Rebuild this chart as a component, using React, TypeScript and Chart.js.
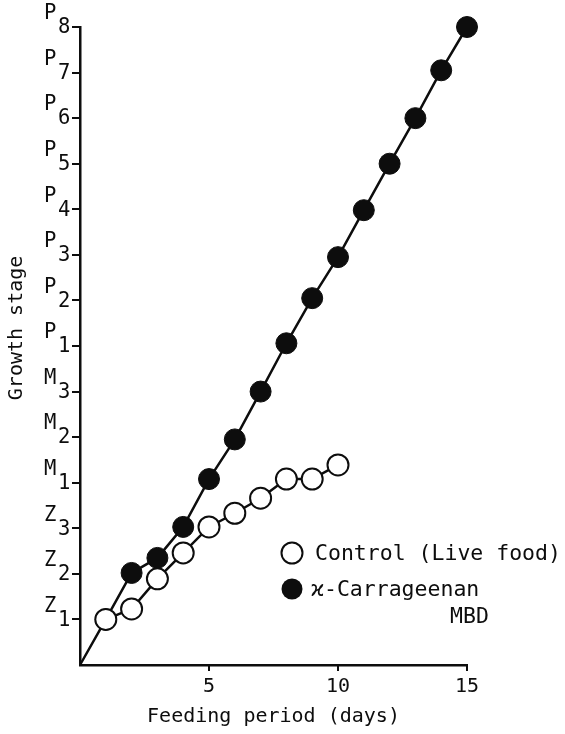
import React, { useEffect, useRef } from 'react';
import { Chart, registerables } from 'chart.js';

Chart.register(...registerables);

// ---- data ----
const STAGES = ['Z1', 'Z2', 'Z3', 'M1', 'M2', 'M3', 'P1', 'P2', 'P3', 'P4', 'P5', 'P6', 'P7', 'P8'];
const X_TICKS = [5, 10, 15];

const CONTROL_LABEL = 'Control (Live food)';
const CONTROL_DAYS = [1, 2, 3, 4, 5, 6, 7, 8, 9, 10];
const CONTROL_STAGE = [1.0, 1.23, 1.89, 2.46, 3.03, 3.33, 3.66, 4.08, 4.08, 4.39];

const CARRA_LABEL = ['ϰ-Carrageenan', 'MBD'];
const CARRA_DAYS = [0, 1, 2, 3, 4, 5, 6, 7, 8, 9, 10, 11, 12, 13, 14, 15];
const CARRA_STAGE = [0, 1.0, 2.02, 2.35, 3.03, 4.08, 4.95, 6.0, 7.06, 8.05, 8.95, 9.98, 11.0, 12.0, 13.05, 14.0];

const X_TITLE = 'Feeding period (days)';
const Y_TITLE = 'Growth stage';

// ---- style ----
const FONT = '"DejaVu Sans Mono", monospace';
const INK = '#0d0d0d';
const W = 565;
const H = 734;

const axisDecorPlugin = {
  id: 'axisDecor',
  afterDraw(chart: any) {
    const ys = chart.scales.y;
    const xs = chart.scales.x;
    const ctx = chart.ctx;
    const { left, bottom } = chart.chartArea;
    ctx.save();
    ctx.fillStyle = INK;
    // tick marks
    STAGES.forEach((_, i) => {
      const y = Math.round(ys.getPixelForValue(i + 1));
      ctx.fillRect(left - 8, y - 1, 8, 2);
    });
    X_TICKS.forEach((v) => {
      const x = Math.round(xs.getPixelForValue(v));
      ctx.fillRect(x - 1, bottom, 2, 6);
    });
    // stage labels with subscript numbers
    ctx.font = `20.5px ${FONT}`;
    ctx.textBaseline = 'middle';
    ctx.textAlign = 'left';
    STAGES.forEach((s, i) => {
      const y = ys.getPixelForValue(i + 1);
      ctx.fillText(s[0], left - 36, y - 13);
      ctx.fillText(s.slice(1), left - 22, y + 1);
    });
    ctx.restore();
  },
};

const legendPlugin = {
  id: 'customLegend',
  afterDraw(chart: any) {
    const ctx = chart.ctx;
    ctx.save();
    ctx.lineWidth = 2;
    ctx.strokeStyle = INK;
    ctx.beginPath();
    ctx.arc(292, 553, 10.5, 0, Math.PI * 2);
    ctx.fillStyle = '#fff';
    ctx.fill();
    ctx.stroke();
    ctx.beginPath();
    ctx.arc(292, 589, 10.5, 0, Math.PI * 2);
    ctx.fillStyle = INK;
    ctx.fill();
    ctx.fillStyle = INK;
    ctx.font = `21.5px ${FONT}`;
    ctx.textBaseline = 'middle';
    ctx.textAlign = 'left';
    ctx.fillText(CONTROL_LABEL, 315, 554);
    ctx.fillText(CARRA_LABEL[0], 311, 590);
    ctx.fillText(CARRA_LABEL[1], 450, 617);
    ctx.restore();
  },
};

export default function App() {
  const ref = useRef<HTMLCanvasElement | null>(null);

  useEffect(() => {
    if (!ref.current) return;
    const chart = new Chart(ref.current, {
      type: 'scatter',
      data: {
        datasets: [
          {
            label: CONTROL_LABEL,
            data: CONTROL_DAYS.map((d, i) => ({ x: d, y: CONTROL_STAGE[i] })),
            showLine: true,
            borderColor: INK,
            borderWidth: 2.5,
            pointRadius: 10.5,
            pointBorderWidth: 2,
            pointBackgroundColor: '#fff',
            pointBorderColor: INK,
            clip: false,
          } as any,
          {
            label: CARRA_LABEL.join(' '),
            data: CARRA_DAYS.map((d, i) => ({ x: d, y: CARRA_STAGE[i] })),
            showLine: true,
            borderColor: INK,
            borderWidth: 2.5,
            pointRadius: CARRA_DAYS.map((d) => (d === 0 ? 0 : 10.5)),
            pointBorderWidth: 1,
            pointBackgroundColor: INK,
            pointBorderColor: INK,
            clip: false,
          } as any,
        ],
      },
      options: {
        animation: false,
        responsive: false,
        devicePixelRatio: 1,
        events: [],
        layout: { padding: { top: 27, right: 98, left: 0, bottom: 0 } },
        plugins: { legend: { display: false }, tooltip: { enabled: false } },
        scales: {
          x: {
            type: 'linear',
            min: 0,
            max: 15,
            afterBuildTicks: (s: any) => {
              s.ticks = [0, ...X_TICKS].map((v) => ({ value: v }));
            },
            afterFit: (s: any) => {
              s.height = 69;
            },
            ticks: {
              callback: (v: any) => (v === 0 ? '' : String(v)),
              color: INK,
              font: { family: FONT, size: 20 },
              padding: 10,
              maxRotation: 0,
              autoSkip: false,
            },
            grid: { display: false, drawTicks: false },
            border: { display: true, color: INK, width: 2.5 },
            title: {
              display: true,
              text: X_TITLE,
              color: INK,
              font: { family: FONT, size: 20 },
              padding: { top: 0, bottom: 5 },
            },
          },
          y: {
            type: 'linear',
            min: 0,
            max: 14,
            afterFit: (s: any) => {
              s.width = 80;
            },
            ticks: { stepSize: 1, display: false },
            grid: { display: false, drawTicks: false },
            border: { display: true, color: INK, width: 2.5 },
            title: {
              display: true,
              text: '   ' + Y_TITLE,
              color: INK,
              font: { family: FONT, size: 20 },
              padding: { top: 5, bottom: 0 },
            },
          },
        },
      } as any,
      plugins: [axisDecorPlugin, legendPlugin],
    });
    return () => chart.destroy();
  }, []);

  return (
    <div style={{ position: 'absolute', left: 0, top: 0, width: W, height: H, background: '#fff' }}>
      <canvas ref={ref} width={W} height={H} style={{ display: 'block' }} />
    </div>
  );
}
